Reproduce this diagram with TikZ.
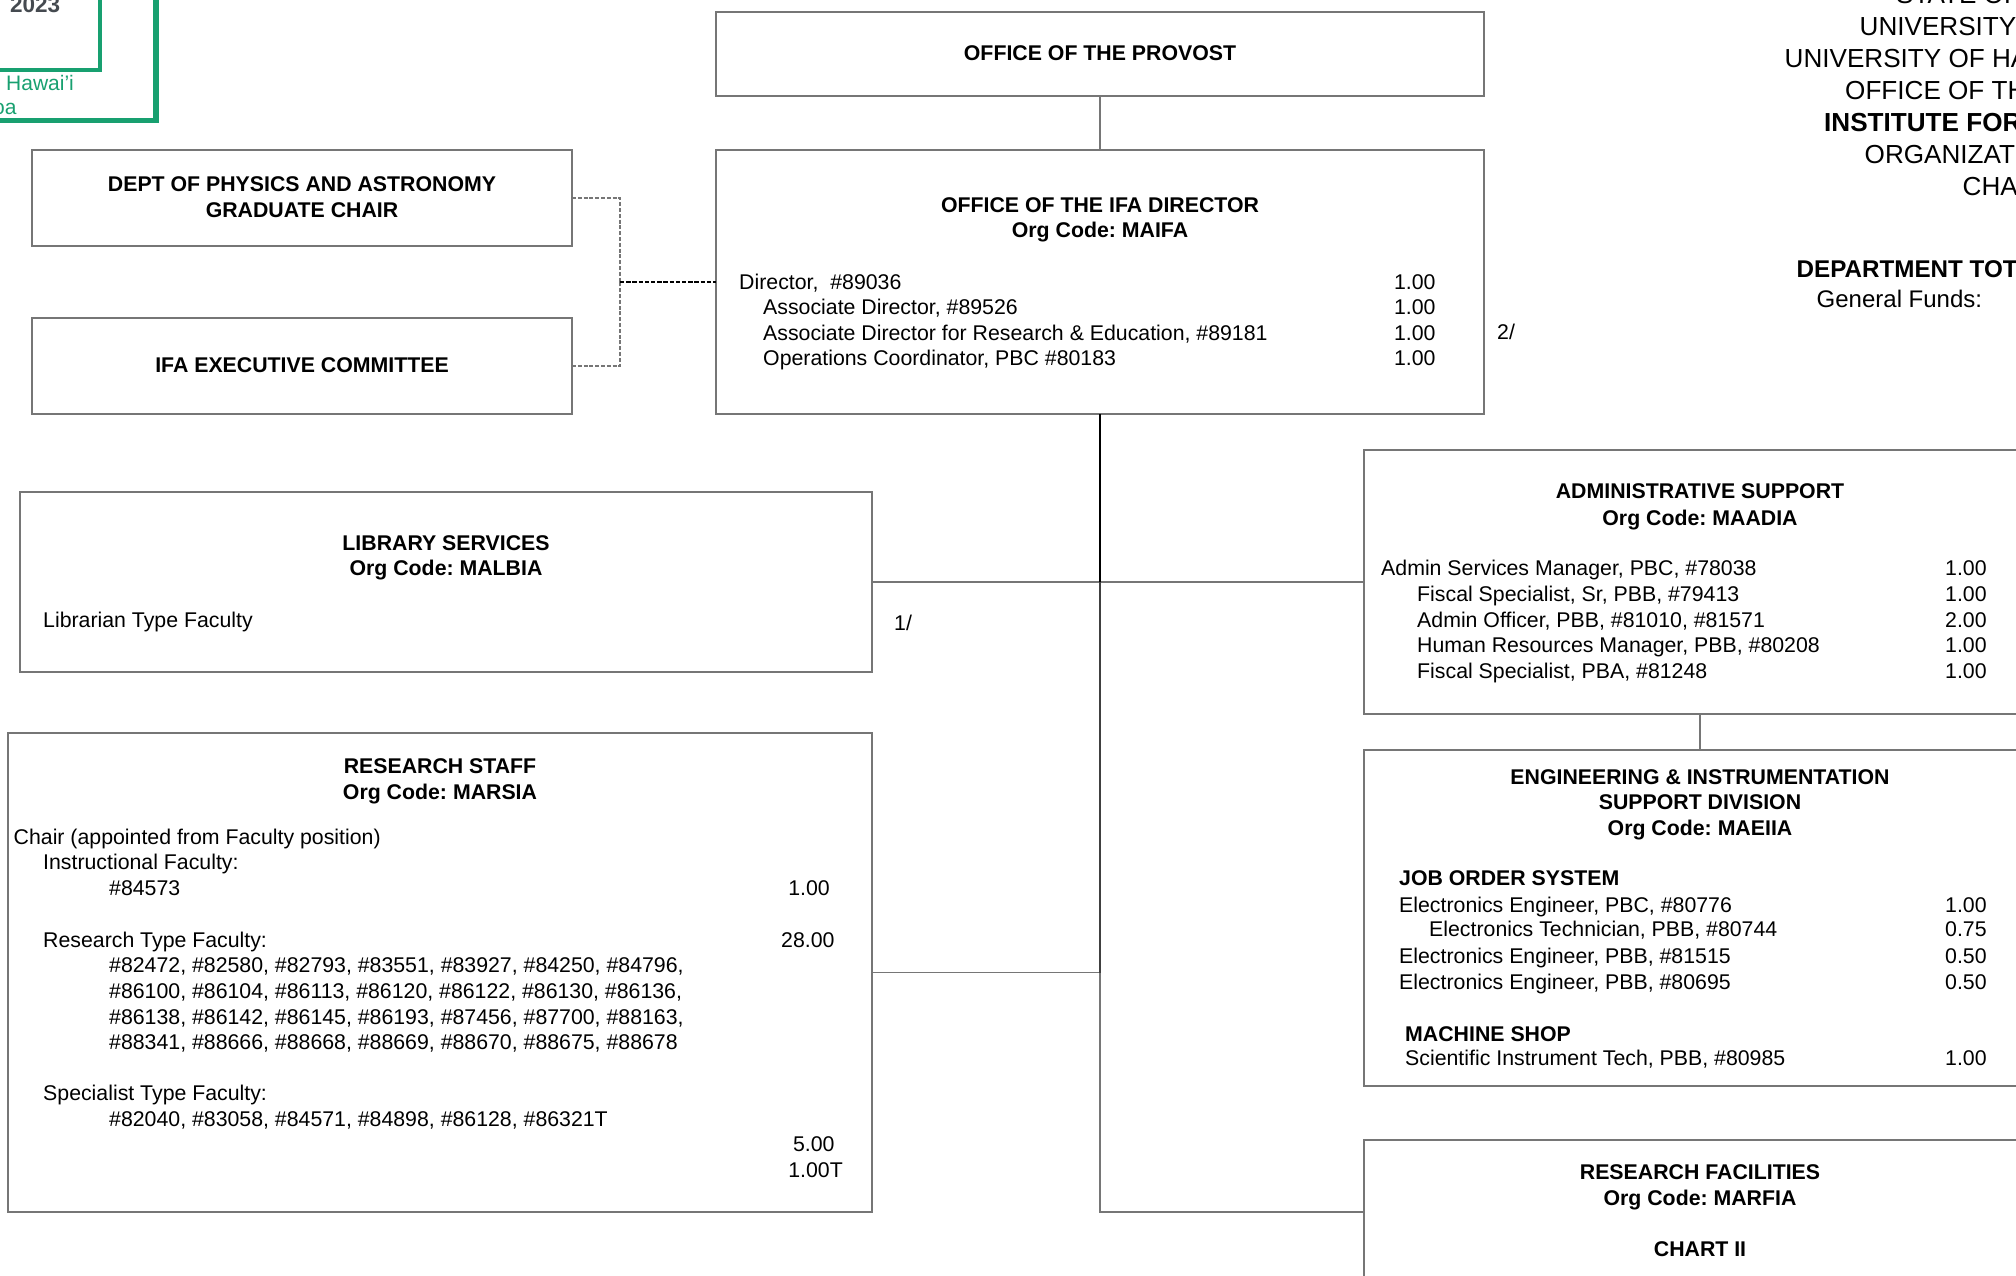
\documentclass[tikz,border=0pt]{standalone}
\usepackage{fontspec}
\setmainfont{Liberation Sans}
\definecolor{boxgray}{HTML}{767676}
\definecolor{darkline}{HTML}{404040}
\definecolor{stampgreen}{HTML}{18A070}
\definecolor{stampgray}{HTML}{454A50}
\tikzset{
  x=1pt,y=-1pt,
  box/.style={draw=boxgray,line width=1.6pt,rectangle,anchor=north west,inner sep=0pt,outer sep=0pt},
  body/.style={font=\fontsize{21.3}{25}\selectfont,text=black,inner sep=0pt,anchor=base west},
  bodyr/.style={body,anchor=base east},
  head/.style={font=\fontsize{21.3}{25}\selectfont\bfseries,text=black,inner sep=0pt,anchor=base},
  headl/.style={head,anchor=base west},
  conn/.style={draw=boxgray,line width=1.6pt},
  trunk/.style={draw=black,line width=2pt},
  midtrunk/.style={draw=darkline,line width=1.9pt},
  dash1/.style={draw=boxgray,line width=1.6pt,dash pattern=on 4pt off 1.8pt},
  dash2/.style={draw=black,line width=1.8pt,dash pattern=on 4.4pt off 1.8pt},
  top/.style={font=\fontsize{26.1}{30}\selectfont,text=black,inner sep=0pt,anchor=base west},
  stamptext/.style={font=\fontsize{21}{24}\selectfont,text=stampgreen,inner sep=0pt,anchor=base west},
}
\begin{document}
\frenchspacing
\begin{tikzpicture}
\useasboundingbox (0,0) rectangle (2016,1275);
% stamp
\draw[stampgreen,line width=3.3pt] (-5,70) -- (100,70) -- (100,-5);
\draw[stampgreen,line width=5.5pt] (-5,120.7) -- (156,120.7) -- (156,-5);
\node[font=\fontsize{22.5}{24}\selectfont\bfseries,text=stampgray,inner sep=0pt,anchor=base west] (stampyear) at (10,12) {2023};
\node[stamptext] (stamphawaii) at (6,90.5) {Hawai'i};
\node[stamptext] (stampmanoa) at (-7,114) {oa};
% boxes
\node[box,minimum width=768pt,minimum height=84pt] (provost) at (716,12) {};
\node[box,minimum width=768pt,minimum height=264pt] (director) at (716,150) {};
\node[box,minimum width=540pt,minimum height=96pt] (dept) at (32,150) {};
\node[box,minimum width=540pt,minimum height=96pt] (exec) at (32,318) {};
\node[box,minimum width=852pt,minimum height=180pt] (library) at (20,492) {};
\node[box,minimum width=864pt,minimum height=479pt] (research) at (8,733) {};
\node[box,minimum width=672pt,minimum height=264pt] (admin) at (1364,450) {};
\node[box,minimum width=672pt,minimum height=336pt] (eng) at (1364,750) {};
\node[box,minimum width=672pt,minimum height=144pt] (facilities) at (1364,1140) {};
% connectors
\coordinate (dj) at (620,282);
\draw[conn] (provost.south) -- (director.north);
\draw[dash1] (dept.east) -| (dj);
\draw[dash1] (exec.east) -| (dj);
\draw[dash2] (dj) -- (director.west);
\draw[conn] (library.east) -- (admin.west);
\draw[conn] (research.east) -- (research.east -| director.south);
\draw[conn] (director.south |- research.east) -- (director.south |- facilities.west) -- (facilities.west);
\draw[midtrunk] (director.south |- library.east) -- (director.south |- research.east);
\draw[trunk] (director.south) -- (director.south |- library.east);
\draw[conn] (admin.south) -- (eng.north);
% provost etc
\node[head] (tprovost) at (1100,60.5) {OFFICE OF THE PROVOST};
\node[head] (tdept1) at (302,191) {DEPT OF PHYSICS AND ASTRONOMY};
\node[head] (tdept2) at (302,217) {GRADUATE CHAIR};
\node[head] (texec) at (302,372) {IFA EXECUTIVE COMMITTEE};
% director
\node[head] (tdir1) at (1100,212) {OFFICE OF THE IFA DIRECTOR};
\node[head] (tdir2) at (1100,237) {Org Code: MAIFA};
\node[body] (dl1) at (739,289) {Director,\ \ \#89036};
\node[body] (dl2) at (763,314) {Associate Director, \#89526};
\node[body] (dl3) at (763,340) {Associate Director for Research \& Education, \#89181};
\node[body] (dl4) at (763,365) {Operations Coordinator, PBC \#80183};
\node[bodyr] (dq1) at (1435.7,289) {1.00};
\node[bodyr] (dq2) at (1435.7,314) {1.00};
\node[bodyr] (dq3) at (1435.7,340) {1.00};
\node[bodyr] (dq4) at (1435.7,365) {1.00};
\node[body] (note2) at (1497,339) {2/};
% library
\node[head] (tlib1) at (446,550) {LIBRARY SERVICES};
\node[head] (tlib2) at (446,575.8) {Org Code: MALBIA};
\node[body] (tlib3) at (43,627) {Librarian Type Faculty};
\node[body] (note1) at (894,630.5) {1/};
% research staff
\node[head] (tres1) at (440,773.5) {RESEARCH STAFF};
\node[head] (tres2) at (440,799) {Org Code: MARSIA};
\node[body] (rl1) at (13.5,844) {Chair (appointed from Faculty position)};
\node[body] (rl2) at (43,869.5) {Instructional Faculty:};
\node[body] (rl3) at (109,895.5) {\#84573};
\node[bodyr] (rq3) at (830,895.5) {1.00};
\node[body] (rl4) at (43,947) {Research Type Faculty:};
\node[bodyr] (rq4) at (834.7,947) {28.00};
\node[body] (rl5) at (109,972.5) {\#82472, \#82580, \#82793, \#83551, \#83927, \#84250, \#84796,};
\node[body] (rl6) at (109,998.3) {\#86100, \#86104, \#86113, \#86120, \#86122, \#86130, \#86136,};
\node[body] (rl7) at (109,1024) {\#86138, \#86142, \#86145, \#86193, \#87456, \#87700, \#88163,};
\node[body] (rl8) at (109,1049.5) {\#88341, \#88666, \#88668, \#88669, \#88670, \#88675, \#88678};
\node[body] (rl9) at (43,1100.3) {Specialist Type Faculty:};
\node[body] (rl10) at (109,1126) {\#82040, \#83058, \#84571, \#84898, \#86128, \#86321T};
\node[bodyr] (rq5) at (834.7,1151.3) {5.00};
\node[bodyr] (rq6) at (843,1177) {1.00T};
% admin
\node[head] (tadm1) at (1700,498.2) {ADMINISTRATIVE SUPPORT};
\node[head] (tadm2) at (1700,525) {Org Code: MAADIA};
\node[body] (al1) at (1381,575.8) {Admin Services Manager, PBC, \#78038};
\node[body] (al2) at (1417,601) {Fiscal Specialist, Sr, PBB, \#79413};
\node[body] (al3) at (1417,627) {Admin Officer, PBB, \#81010, \#81571};
\node[body] (al4) at (1417,652.5) {Human Resources Manager, PBB, \#80208};
\node[body] (al5) at (1417,678) {Fiscal Specialist, PBA, \#81248};
\node[bodyr] (aq1) at (1986.8,575.8) {1.00};
\node[bodyr] (aq2) at (1986.8,601) {1.00};
\node[bodyr] (aq3) at (1986.8,627) {2.00};
\node[bodyr] (aq4) at (1986.8,652.5) {1.00};
\node[bodyr] (aq5) at (1986.8,678) {1.00};
% engineering
\node[head] (teng1) at (1700,784) {ENGINEERING \& INSTRUMENTATION};
\node[head] (teng2) at (1700,809.3) {SUPPORT DIVISION};
\node[head] (teng3) at (1700,835) {Org Code: MAEIIA};
\node[headl] (tjob) at (1399,885.1) {JOB ORDER SYSTEM};
\node[body] (el1) at (1399,912) {Electronics Engineer, PBC, \#80776};
\node[body] (el2) at (1429,936.5) {Electronics Technician, PBB, \#80744};
\node[body] (el3) at (1399,963.5) {Electronics Engineer, PBB, \#81515};
\node[body] (el4) at (1399,989.3) {Electronics Engineer, PBB, \#80695};
\node[bodyr] (eq1) at (1986.8,912) {1.00};
\node[bodyr] (eq2) at (1986.8,936.5) {0.75};
\node[bodyr] (eq3) at (1986.8,963.5) {0.50};
\node[bodyr] (eq4) at (1986.8,989.3) {0.50};
\node[headl] (tmach) at (1405,1041) {MACHINE SHOP};
\node[body] (el5) at (1405,1065) {Scientific Instrument Tech, PBB, \#80985};
\node[bodyr] (eq5) at (1986.8,1065) {1.00};
% facilities
\node[head] (tfac1) at (1700,1179.5) {RESEARCH FACILITIES};
\node[head] (tfac2) at (1700,1205.3) {Org Code: MARFIA};
\node[head] (tfac3) at (1700,1256.5) {CHART II};
% top right
\node[top] (h1) at (1896,3.7) {STATE OF};
\node[top] (h2) at (1859.5,35.7) {UNIVERSITY};
\node[top] (h3) at (1784.5,67.7) {UNIVERSITY OF HA};
\node[top] (h4) at (1845,99.7) {OFFICE OF TH};
\node[top,font=\fontsize{26.1}{30}\selectfont\bfseries] (h5) at (1824,131.7) {INSTITUTE FOR};
\node[top] (h6) at (1864.5,163.7) {ORGANIZAT};
\node[top] (h7) at (1962.5,195.7) {CHA};
\node[top,font=\fontsize{24.2}{28}\selectfont\bfseries] (h8) at (1796.5,277.3) {DEPARTMENT TOT};
\node[top,font=\fontsize{24}{28}\selectfont] (h9) at (1816.5,307.5) {General Funds:};
\end{tikzpicture}
\end{document}
